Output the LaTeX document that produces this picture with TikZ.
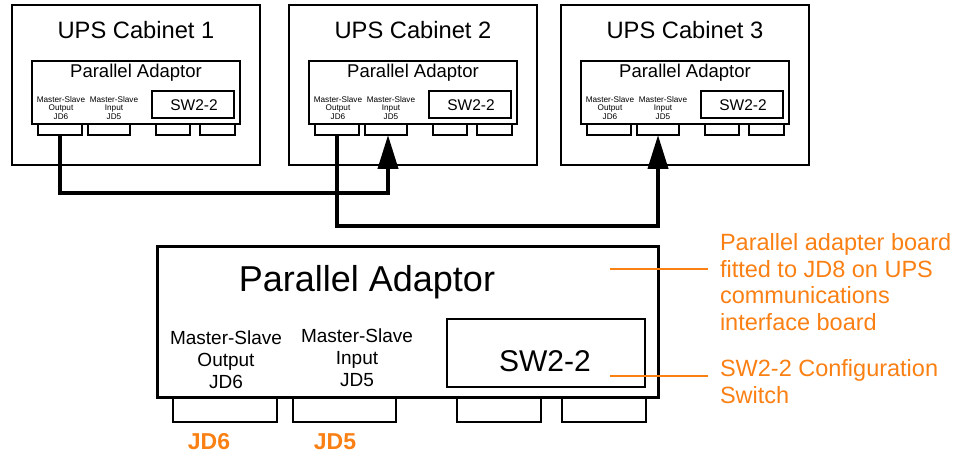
\documentclass[tikz,border=0pt]{standalone}
\usepackage{fontspec}
\setmainfont{Liberation Sans}
\usetikzlibrary{arrows.meta,positioning}
\definecolor{adorange}{RGB}{250,128,20}

\begin{document}
\begin{tikzpicture}[
                x=1pt,y=-1pt,
                every node/.style={inner sep=0pt,outer sep=0pt},
                cabinet/.style={draw,line width=2pt,anchor=north west,minimum width=248pt,minimum height=160pt},
                board/.style={draw,line width=2pt,anchor=north west,minimum width=208pt,minimum height=63pt},
                port/.style={draw,line width=1.5pt,anchor=north west,minimum height=11pt},
                swbox/.style={draw,line width=2pt,anchor=north west},
                small/.style={align=center,font=\fontsize{8.2}{8.5}\selectfont},
                wire/.style={line width=4pt,-{Triangle[length=34pt,width=20pt]}},
                leader/.style={draw=adorange,line width=1.5pt},
                note/.style={anchor=north west,align=left,text=adorange,font=\fontsize{23.5}{26.7}\selectfont}
            ]

            \useasboundingbox (0,0) rectangle (960,454);

            \foreach \i/\x in {1/12,2/289,3/561}{
                \node[cabinet] (cab\i) at (\x,5) {};
                \node[font=\fontsize{23.7}{28}\selectfont] (cabname\i) at (\x+124,30) {UPS Cabinet \i};
                \node[board] (ad\i) at (\x+20,61) {};
                \node[font=\fontsize{18.5}{22}\selectfont] (adname\i) at (\x+124,73) {Parallel Adaptor};
                \node[small] (outlbl\i) at (\x+49,108) {Master-Slave\\Output\\JD6};
                \node[small] (inlbl\i) at (\x+102,108) {Master-Slave\\Input\\JD5};
                \node[swbox,minimum width=82pt,minimum height=27pt] (sw\i) at (\x+140,91) {};
                \node[font=\fontsize{15.5}{18}\selectfont] (swname\i) at (\x+182,105) {SW2-2};
                \node[port,minimum width=44pt] (out\i) at (\x+26,124) {};
                \node[port,minimum width=42pt] (in\i) at (\x+76,124) {};
                \node[port,minimum width=34pt] (pa\i) at (\x+144,124) {};
                \node[port,minimum width=35pt] (pb\i) at (\x+188,124) {};
            }

            \draw[wire] (out1.south) -- ++(0,58) -| ([xshift=2pt]in2.south);
            \draw[wire] (out2.south) -- ++(0,91) -| (in3.south);

            \node[draw,line width=3pt,anchor=north west,minimum width=501pt,minimum height=151pt] (bigad) at (157,246) {};
            \node[font=\fontsize{36}{40}\selectfont] (bigname) at (367,282) {Parallel Adaptor};
            \node[align=center,font=\fontsize{19}{22}\selectfont] (bigoutlbl) at (226,360) {Master-Slave\\Output\\JD6};
            \node[align=center,font=\fontsize{19}{22}\selectfont] (biginlbl) at (357,358) {Master-Slave\\Input\\JD5};
            \node[swbox,line width=1.5pt,minimum width=198pt,minimum height=68pt] (bigsw) at (447,319) {};
            \node[font=\fontsize{30}{34}\selectfont] (bigswname) at (545,361) {SW2-2};
            \node[port,line width=2pt,minimum width=104pt,minimum height=25pt] (jd6) at (173,397) {};
            \node[port,line width=2pt,minimum width=103pt,minimum height=25pt] (jd5) at (293,397) {};
            \node[port,line width=2pt,minimum width=84pt,minimum height=25pt] (bigpa) at (457,397) {};
            \node[port,line width=2pt,minimum width=84pt,minimum height=25pt] (bigpb) at (562,397) {};

            \node[text=adorange,font=\fontsize{23}{26}\selectfont\bfseries] (jd6lbl) at (209,442) {JD6};
            \node[text=adorange,font=\fontsize{23}{26}\selectfont\bfseries] (jd5lbl) at (335,442) {JD5};

            \coordinate (boardpt) at (610,269);
            \coordinate (swpt) at (610,376);
            \node[note] (boardnote) at (720,233.4) {Parallel adapter board\\fitted to JD8 on UPS\\communications\\interface board};
            \node[note] (swnote) at (720,359.4) {SW2-2 Configuration\\Switch};
            \draw[leader] (boardpt) -- ([xshift=-12pt]boardpt -| boardnote.west);
            \draw[leader] (swpt) -- ([xshift=-12pt]swpt -| swnote.west);

        \end{tikzpicture}
\end{document}
